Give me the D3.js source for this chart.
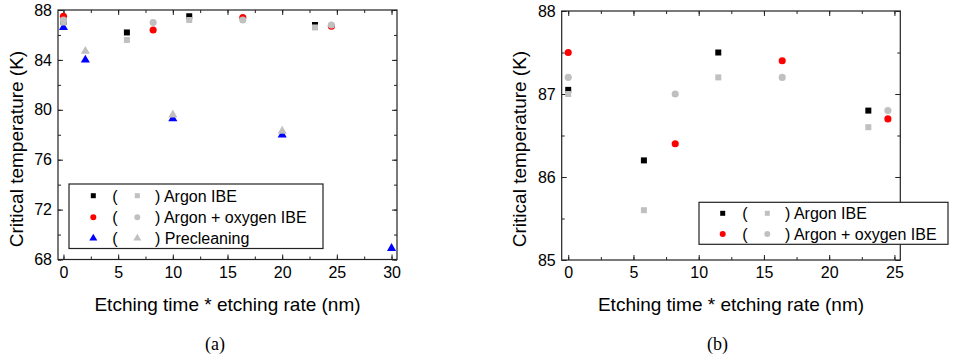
<!DOCTYPE html>
<html><head><meta charset="utf-8">
<script src="https://cdn.jsdelivr.net/npm/d3@7"></script>
<style>
body{margin:0;background:#fff;}
svg text{font-family:"Liberation Sans",Arial,sans-serif;fill:#000;}
</style></head>
<body><svg id="c" width="955" height="362"></svg>
<script>
// ---- data ----
const argonX = [0, 5.8, 11.5, 23];
const argonTc = [87.05, 86.2, 87.5, 86.8];
const argonTcGray = [87.0, 85.6, 87.2, 86.6];
const oxyX = [0, 8.2, 16.4, 24.5];
const oxyTc = [87.5, 86.4, 87.4, 86.7];
const oxyTcGray = [87.2, 87.0, 87.2, 86.8];
const preX = [0, 2, 10, 20, 30];
const preTc = [86.6, 84.0, 79.3, 78.0, 68.9];
const preGrayX = [2, 10, 20];
const preTcGray = [84.7, 79.6, 78.3];
const xTicksA = [0, 5, 10, 15, 20, 25, 30];
const yTicksA = [68, 72, 76, 80, 84, 88];
const xTicksB = [0, 5, 10, 15, 20, 25];
const yTicksB = [85, 86, 87, 88];
const xTitle = "Etching time * etching rate (nm)";
const yTitle = "Critical temperature (K)";
const legendA = ["Argon IBE", "Argon + oxygen IBE", "Precleaning"];
const legendB = ["Argon IBE", "Argon + oxygen IBE"];

const svg = d3.select("#c");
const AX = "#222";

function panel(cfg){
  const g = svg.append("g");
  const x = d3.scaleLinear().domain(cfg.xd).range([cfg.l, cfg.r]);
  const y = d3.scaleLinear().domain(cfg.yd).range([cfg.b, cfg.t]);
  const xMinor = d3.range(cfg.xd[0] < 0 ? 0 : cfg.xd[0], cfg.xd[1], cfg.xStep/2).filter(v => v <= cfg.xd[1]);
  const yMinor = d3.range(cfg.yd[0], cfg.yd[1] + 1e-9, cfg.yStep/2);
  function styleAxis(sel){
    sel.select(".domain").remove();
    sel.selectAll("line").attr("stroke", AX).attr("stroke-width", 1);
    sel.selectAll("text").style("font-size", "16px").attr("fill", "#000");
  }
  // bottom
  g.append("g").attr("transform", `translate(0,${cfg.b})`)
    .call(d3.axisBottom(x).tickValues(xMinor).tickSize(-3).tickFormat(""))
    .call(styleAxis);
  g.append("g").attr("transform", `translate(0,${cfg.b})`)
    .call(d3.axisBottom(x).tickValues(cfg.xt).tickSize(-5).tickPadding(7).tickFormat(d3.format("d")))
    .call(styleAxis);
  // top
  g.append("g").attr("transform", `translate(0,${cfg.t})`)
    .call(d3.axisTop(x).tickValues(xMinor).tickSize(-3).tickFormat(""))
    .call(styleAxis);
  g.append("g").attr("transform", `translate(0,${cfg.t})`)
    .call(d3.axisTop(x).tickValues(cfg.xt).tickSize(-5).tickFormat(""))
    .call(styleAxis);
  // left
  g.append("g").attr("transform", `translate(${cfg.l},0)`)
    .call(d3.axisLeft(y).tickValues(yMinor).tickSize(-3).tickFormat(""))
    .call(styleAxis);
  g.append("g").attr("transform", `translate(${cfg.l},0)`)
    .call(d3.axisLeft(y).tickValues(cfg.yt).tickSize(-5).tickPadding(6).tickFormat(d3.format("d")))
    .call(styleAxis);
  // right
  g.append("g").attr("transform", `translate(${cfg.r},0)`)
    .call(d3.axisRight(y).tickValues(yMinor).tickSize(-3).tickFormat(""))
    .call(styleAxis);
  g.append("g").attr("transform", `translate(${cfg.r},0)`)
    .call(d3.axisRight(y).tickValues(cfg.yt).tickSize(-5).tickFormat(""))
    .call(styleAxis);
  // frame
  g.append("rect").attr("x", cfg.l).attr("y", cfg.t)
    .attr("width", cfg.r - cfg.l).attr("height", cfg.b - cfg.t)
    .attr("fill", "none").attr("stroke", AX).attr("stroke-width", 1.2);

  const sq = d3.symbol().type(d3.symbolSquare).size(36);
  const ci = d3.symbol().type(d3.symbolCircle).size(40);
  const tr = d3.symbol().type(d3.symbolTriangle).size(36);
  function pts(xs, ys, sym, col){
    g.append("g").selectAll("path").data(xs.map((v,i)=>[v, ys[i]])).join("path")
      .attr("d", sym).attr("fill", col)
      .attr("transform", d => `translate(${x(d[0])},${y(d[1])})`);
  }
  pts(argonX, argonTc, sq, "#000");
  pts(oxyX, oxyTc, ci, "#ff0000");
  if (cfg.pre) pts(preX, preTc, tr, "#0000ff");
  pts(argonX, argonTcGray, sq, "#c0c0c0");
  pts(oxyX, oxyTcGray, ci, "#c0c0c0");
  if (cfg.pre) pts(preGrayX, preTcGray, tr, "#c0c0c0");

  // titles
  g.append("text").attr("x", (cfg.l + cfg.r)/2).attr("y", 311)
    .attr("text-anchor", "middle").style("font-size", "19px").text(xTitle);
  g.append("text").attr("transform", `translate(${cfg.yTitleX},149) rotate(-90)`)
    .attr("text-anchor", "middle").style("font-size", "19px").text(yTitle);
  g.append("text").attr("x", cfg.labX).attr("y", 350)
    .attr("text-anchor", "middle")
    .style("font-family", "'Liberation Serif','Times New Roman',serif")
    .style("font-size", "18px").text(cfg.lab);

  // legend
  const L = cfg.leg;
  g.append("rect").attr("x", L.x0).attr("y", L.y0).attr("width", L.x1 - L.x0).attr("height", L.y1 - L.y0)
    .attr("fill", "#fff").attr("stroke", AX).attr("stroke-width", 1.2);
  const lsq = d3.symbol().type(d3.symbolSquare).size(25);
  const lci = d3.symbol().type(d3.symbolCircle).size(28);
  const ltr = d3.symbol().type(d3.symbolTriangle).size(28);
  const syms = [lsq, lci, ltr];
  const cols = ["#000", "#ff0000", "#0000ff"];
  L.names.forEach((nm, i) => {
    const cy = L.rows[i];
    g.append("path").attr("d", syms[i]).attr("fill", cols[i]).attr("transform", `translate(${L.s1},${cy})`);
    g.append("text").attr("x", L.p1).attr("y", cy + 6).attr("text-anchor", "middle").style("font-size", "16px").text("(");
    g.append("path").attr("d", syms[i]).attr("fill", "#c0c0c0").attr("transform", `translate(${L.s2},${cy})`);
    g.append("text").attr("x", L.p2).attr("y", cy + 6).style("font-size", "16px").text(") " + nm);
  });
}

panel({xd:[-0.5, 30.5], yd:[68, 88], l:58, r:397, t:10, b:259.5, xt:xTicksA, yt:yTicksA,
  xStep:5, yStep:4, pre:true, yTitleX:22.5, labX:215, lab:"(a)",
  leg:{x0:69, x1:323, y0:184, y1:248.5, rows:[195.7, 217.3, 238.3], s1:93.3, p1:115, s2:137.3, p2:155, names:legendA}});
panel({xd:[-0.5, 25.45], yd:[85, 88], l:561.7, r:900.3, t:11, b:260, xt:xTicksB, yt:yTicksB,
  xStep:5, yStep:1, pre:false, yTitleX:526, labX:717.5, lab:"(b)",
  leg:{x0:699, x1:948, y0:202.3, y1:244.3, rows:[213.3, 234], s1:722.7, p1:745, s2:767.3, p2:785, names:legendB}});
</script></body></html>
